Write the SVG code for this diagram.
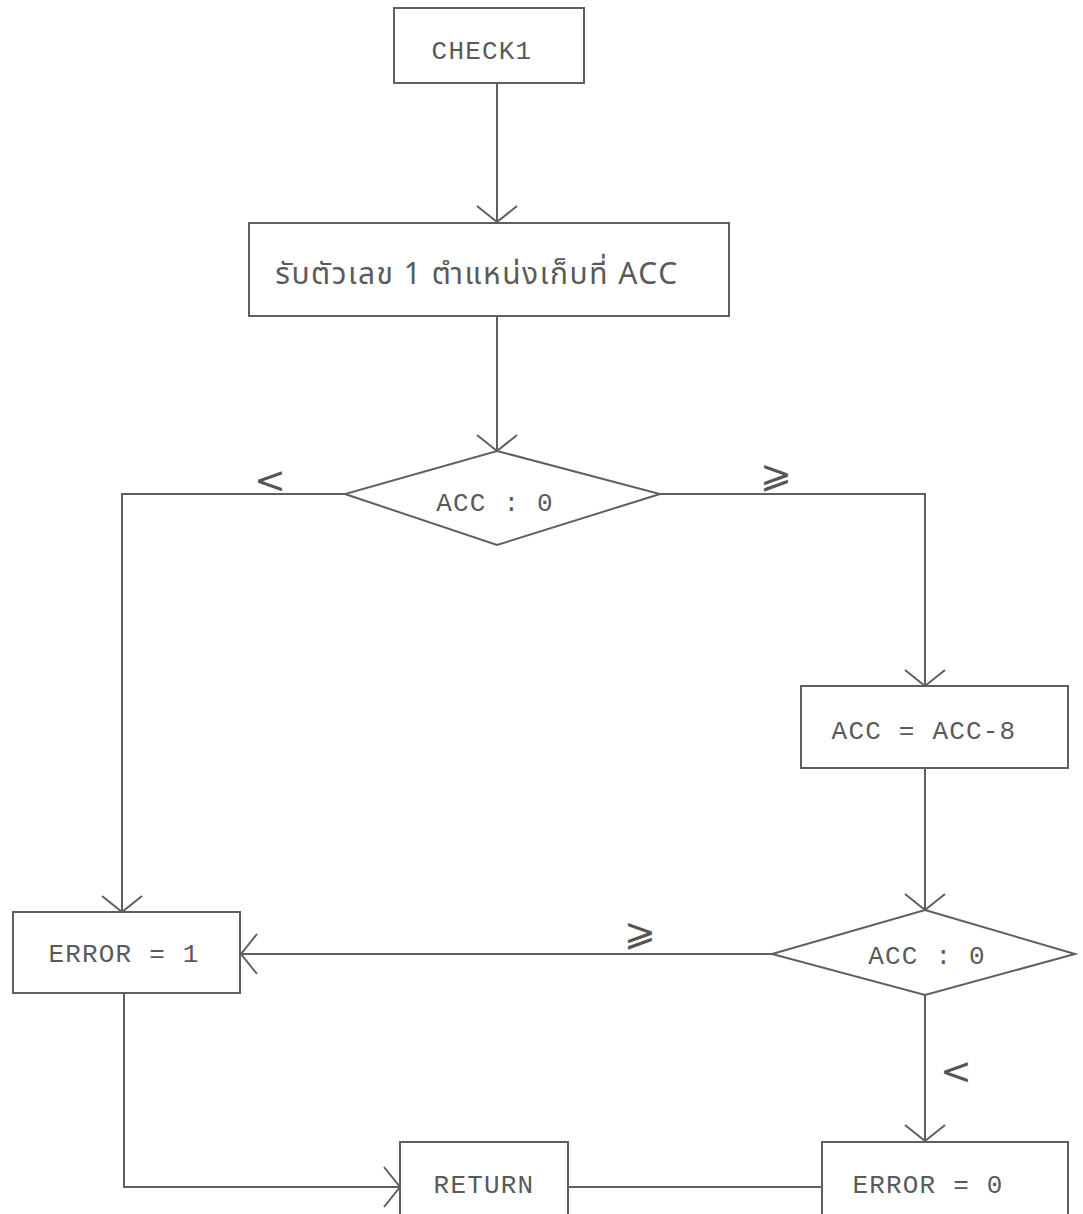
<svg xmlns="http://www.w3.org/2000/svg" width="1083" height="1214" viewBox="0 0 1083 1214">
  <style>
    .box { fill: none; stroke: #5f5f5f; stroke-width: 2; }
    .line { fill: none; stroke: #5f5f5f; stroke-width: 2; }
    .txt { font-family: "Liberation Mono", "DejaVu Sans Mono", monospace; font-size: 26px; letter-spacing: 1.2px; fill: #5a5a5a; text-anchor: middle; }
    .thai { font-family: "Noto Sans Thai", "Noto Sans", "DejaVu Sans", sans-serif; font-size: 30px; letter-spacing: 1.5px; fill: #5a5a5a; text-anchor: middle; }
    .lbl { font-family: "DejaVu Sans", "Liberation Sans", sans-serif; font-size: 38px; fill: #555; text-anchor: middle; }
  </style>
  <defs>
    <marker id="vee" markerUnits="userSpaceOnUse" markerWidth="44" markerHeight="48" refX="0" refY="0" viewBox="-22 -24 44 48" orient="auto" overflow="visible">
      <path d="M-16,-20 L0,0 L-16,20" fill="none" stroke="#5f5f5f" stroke-width="2"/>
    </marker>
  </defs>
  <rect width="1083" height="1214" fill="#ffffff"/>

  <!-- connectors -->
  <g id="connectors">
    <path class="line" d="M497,83 V222" marker-end="url(#vee)"/>
    <path class="line" d="M497,316 V451" marker-end="url(#vee)"/>
    <path class="line" d="M345,494 H122 V912" marker-end="url(#vee)"/>
    <path class="line" d="M660,494 H925 V686" marker-end="url(#vee)"/>
    <path class="line" d="M925,768 V910" marker-end="url(#vee)"/>
    <path class="line" d="M772,954 H241" marker-end="url(#vee)"/>
    <path class="line" d="M925,995 V1141" marker-end="url(#vee)"/>
    <path class="line" d="M124,993 V1187 H400" marker-end="url(#vee)"/>
    <path class="line" d="M568,1187 H822"/>
    <text class="lbl" x="270" y="493">&lt;</text>
    <text class="lbl" x="776" y="487">⩾</text>
    <text class="lbl" x="640" y="945">⩾</text>
    <text class="lbl" x="956" y="1084">&lt;</text>
  </g>

  <g id="check1">
    <rect class="box" x="394" y="8" width="190" height="75"/>
    <text class="txt" x="482" y="59">CHECK1</text>
  </g>

  <g id="read-digit">
    <rect class="box" x="249" y="223" width="480" height="93"/>
    <text class="thai" x="477" y="284">รับตัวเลข 1 ตำแหน่งเก็บที่ ACC</text>
  </g>

  <g id="test-acc-1">
    <polygon class="box" points="497,451 660,494 497,545 345,494"/>
    <text class="txt" x="495" y="511">ACC : 0</text>
  </g>

  <g id="acc-minus-8">
    <rect class="box" x="801" y="686" width="267" height="82"/>
    <text class="txt" x="924" y="739">ACC = ACC-8</text>
  </g>

  <g id="test-acc-2">
    <polygon class="box" points="925,910 1075,954 925,995 772,954"/>
    <text class="txt" x="927" y="964">ACC : 0</text>
  </g>

  <g id="error-1">
    <rect class="box" x="13" y="912" width="227" height="81"/>
    <text class="txt" x="124" y="962">ERROR = 1</text>
  </g>

  <g id="return">
    <rect class="box" x="400" y="1142" width="168" height="80"/>
    <text class="txt" x="484" y="1193">RETURN</text>
  </g>

  <g id="error-0">
    <rect class="box" x="822" y="1142" width="246" height="80"/>
    <text class="txt" x="928" y="1193">ERROR = 0</text>
  </g>
</svg>
